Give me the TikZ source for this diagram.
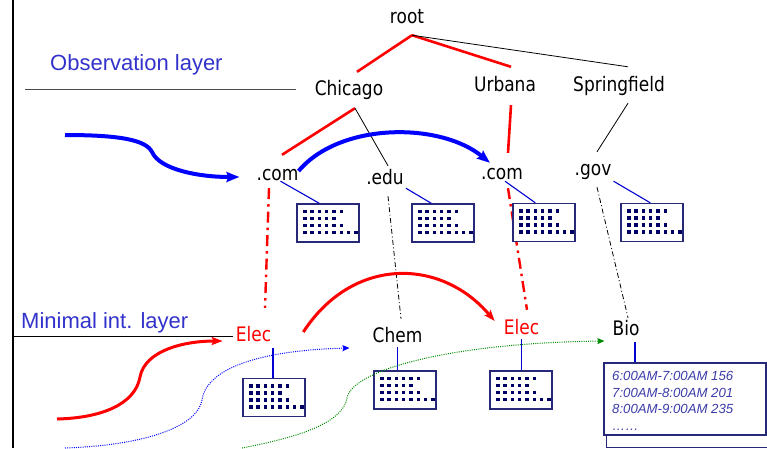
\documentclass[tikz,border=0pt]{standalone}
\usepackage{fontspec}
\newfontfamily\labelfont[FakeStretch=0.85]{DejaVu Sans}
\newfontfamily\captionfont{Liberation Sans}
\usetikzlibrary{arrows.meta}

\definecolor{layerblue}{RGB}{51,51,204}
\definecolor{boxnavy}{RGB}{40,40,120}
\definecolor{dotnavy}{RGB}{0,0,100}
\definecolor{linkblue}{RGB}{0,0,210}
\definecolor{walkgreen}{RGB}{0,140,0}
\definecolor{recordblue}{RGB}{60,60,170}

\tikzset{
  lbl/.style={font=\labelfont\fontsize{20}{24}\selectfont, inner sep=0pt,
              text height=15pt, text depth=5pt, anchor=base},
  hot/.style={lbl, text=red},
  layerlbl/.style={font=\captionfont\fontsize{22}{26}\selectfont, text=layerblue,
                   inner sep=0pt, anchor=base west},
  redtree/.style={red, line width=2.6pt},
  thintree/.style={black, line width=0.8pt},
  reddash/.style={red, line width=2.4pt, dash pattern=on 11pt off 5pt on 2.5pt off 5pt},
  blackdash/.style={black, line width=0.8pt, dash pattern=on 5pt off 2.5pt on 1pt off 2.5pt},
  datalink/.style={draw=linkblue, line width=1.1pt},
  databox/.style={draw=boxnavy, line width=1.4pt, fill=white, minimum width=62pt,
                  minimum height=38pt, inner sep=0pt},
  bluewalk/.style={blue, line width=4pt, -{Stealth[length=13pt,width=10pt,inset=2pt]}},
  redwalk/.style={red, line width=3pt, -{Stealth[length=11pt,width=8pt,inset=2pt]}},
  dotwalk/.style={line width=1pt, dash pattern=on 1pt off 1.2pt,
                  -{Stealth[length=7pt,width=6pt,inset=1pt]}},
  divider/.style={line width=0.8pt},
}

% rows of record markers inside a data box
\newcommand\griddots[1]{%
  \begin{scope}[shift={(#1.north west)}]
    \foreach \n [count=\r] in {6,5,6,8}{
      \foreach \c in {1,...,\n}{
        \fill[dotnavy] ({8.5+(\c-1)*7.3-1.7},{8+(\r-1)*7.1-1.7}) rectangle ++(3.4,3.4);
      }
    }
  \end{scope}}

\begin{document}
\begin{tikzpicture}[x=1pt,y=-1pt]
\fill[white] (0,0) rectangle (767,448);
\useasboundingbox (0,0) rectangle (767,448);

% frame edge and layer dividers
\draw[line width=2pt] (13,0) -- (13,448);
\coordinate (obsL) at (25,89);
\coordinate (obsR) at (296,89);
\draw[divider, black!70] (obsL) -- (obsR);
\coordinate (minL) at (13,336);
\coordinate (minR) at (233,336);
\draw[divider] (minL) -- (minR);
\node[layerlbl] (obslbl) at (50,70) {Observation layer};
\node[layerlbl] (minlbl) at (21,328) {Minimal int. layer};

% location hierarchy
\node[lbl] (root) at (407,23) {root};
\node[lbl] (chi) at (349,95) {Chicago};
\node[lbl] (urb) at (505,91) {Urbana};
\node[lbl] (spr) at (619,91) {Springfield};
\node[lbl] (comL) at (277.5,180) {.com};
\node[lbl] (edu) at (385,184) {.edu};
\node[lbl] (comR) at (502,179) {.com};
\node[lbl] (gov) at (593,175) {.gov};
\node[hot] (elecL) at (253.5,341) {Elec};
\node[lbl] (chem) at (397.5,342) {Chem};
\node[hot] (elecR) at (521.5,334) {Elec};
\node[lbl] (bio) at (626,335) {Bio};

\draw[redtree] ([shift={(5,7)}]root.south) -- ([shift={(8,-8)}]chi.north);
\draw[redtree] ([shift={(5,7)}]root.south) -- ([shift={(6,-9)}]urb.north);
\draw[thintree] ([shift={(5,7)}]root.south) -- ([shift={(9,-9)}]spr.north);
\draw[redtree] ([shift={(6,8)}]chi.south) -- ([shift={(4.5,-10)}]comL.north);
\draw[thintree] ([shift={(6,8)}]chi.south) -- ([shift={(3,-3)}]edu.north);
\draw[redtree] ([shift={(6,9)}]urb.south) -- ([shift={(6,-11)}]comR.north);
\draw[thintree] ([shift={(9,7)}]spr.south) -- ([shift={(4,-8)}]gov.north);

% drill-down to the minimal layer
\draw[reddash] ([shift={(-8.5,3)}]comL.south) -- ([shift={(11.5,-18)}]elecL.north);
\draw[blackdash] ([shift={(3,7)}]edu.south) -- ([shift={(3.5,-8)}]chem.north);
\draw[reddash] ([shift={(6,4)}]comR.south) -- ([shift={(5.5,-9)}]elecR.north);
\draw[blackdash] ([shift={(4,7)}]gov.south) -- ([shift={(2,-2)}]bio.north);

% data boxes of the observation layer
\node[databox] (box1) at (328,223) {};
\node[databox] (box2) at (443,223) {};
\node[databox] (box3) at (544,222.5) {};
\node[databox] (box4) at (652,222.5) {};
\griddots{box1}\griddots{box2}\griddots{box3}\griddots{box4}
\draw[datalink] ([shift={(3,-4)}]comL.south) -- ([shift={(23,0)}]box1.north west);
\draw[datalink] ([shift={(2,-1)}]edu.south east) -- ([shift={(20,0)}]box2.north west);
\draw[datalink] ([shift={(3,-3)}]comR.south) -- ([shift={(23,0)}]box3.north west);
\draw[datalink] ([shift={(2,1)}]gov.south east) -- ([shift={(30,0)}]box4.north west);

% data boxes of the minimal layer
\node[databox] (box5) at (274,397.5) {};
\node[databox] (box6) at (405,390) {};
\node[databox] (box7) at (521,390) {};
\griddots{box5}\griddots{box6}\griddots{box7}
\coordinate (e1) at ([shift={(19.5,2)}]elecL.south);
\draw[datalink] (e1) -- (e1 |- box5.north);
\draw[datalink] (chem.south) -- (chem.south |- box6.north);
\draw[datalink] (elecR.south) -- (elecR.south |- box7.north);

% record list for Bio
\draw[boxnavy, line width=1pt] (606,366) rectangle (770,447);
\node[draw=boxnavy, line width=1.3pt, fill=white, minimum width=162pt,
      minimum height=72pt, inner sep=0pt] (biobox) at (685,399) {};
\node[font=\captionfont\itshape\fontsize{13.2}{16.5}\selectfont, text=recordblue,
      align=left, anchor=north west, inner sep=0pt] (records) at (612,371.5)
  {6:00AM-7:00AM 156\\7:00AM-8:00AM 201\\8:00AM-9:00AM 235\\……};
\coordinate (b1) at ([shift={(9,2)}]bio.south);
\draw[datalink] (b1) -- (b1 |- biobox.north);

% query walks
\coordinate (blueIn) at (65,135);
\draw[bluewalk] (blueIn) .. controls (120,135) and (146,140) .. (152,152)
   .. controls (160,170) and (200,177) .. ([shift={(-17,2)}]comL.west);
\draw[bluewalk] ([shift={(0,-4)}]comL.east) .. controls (340,122) and (440,122)
   .. ([shift={(9,-1)}]comR.north west);
\coordinate (redIn) at (57,419);
\draw[redwalk] (redIn) .. controls (100,418) and (135,405) .. (140,377)
   .. controls (145,350) and (185,341) .. ([shift={(-13,5)}]elecL.west);
\draw[redwalk] ([shift={(32,-4)}]elecL.east) .. controls (352,257) and (440,257)
   .. ([shift={(-9,-8)}]elecR.west);
\coordinate (dotIn) at (65,448);
\draw[dotwalk, blue] (dotIn) .. controls (150,445) and (198,425) .. (202,400)
   .. controls (207,365) and (270,350) .. ([shift={(-23,11)}]chem.west);
\coordinate (greenIn) at (242,448);
\draw[dotwalk, walkgreen] (greenIn) .. controls (310,435) and (343,420) .. (347,398)
   .. controls (352,370) and (450,343) .. ([shift={(-8,11)}]bio.west);
\end{tikzpicture}
\end{document}
